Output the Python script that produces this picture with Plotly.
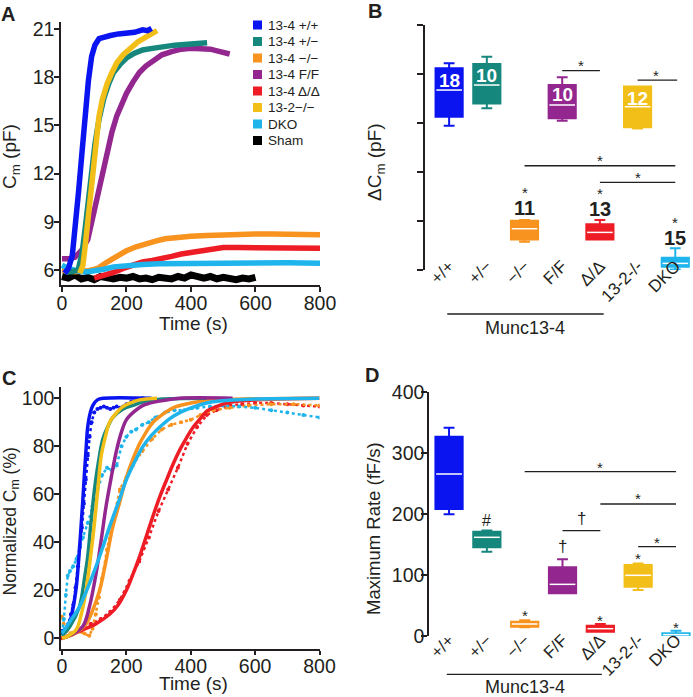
import plotly.graph_objects as go

W, H = 693, 697
FONT = "Arial, Liberation Sans, sans-serif"
INK = "#231f20"

# ---------------- series names / colours ----------------
names = ["13-4 +/+", "13-4 +/−", "13-4 −/−", "13-4 F/F", "13-4 Δ/Δ", "13-2−/−", "DKO", "Sham"]
colors = ["#0a14f0", "#16877d", "#f7931e", "#93278f", "#ee1c24", "#f2bf18", "#1fb5ec", "#000000"]
cats = ["+/+", "+/−", "−/−", "F/F", "Δ/Δ", "13-2-/-", "DKO"]

# ---------------- Panel A: Cm traces (pF) ----------------
a_t_wt = [8, 20, 32, 42, 52, 62, 72, 82, 92, 102, 115, 130, 150, 175, 200, 225, 250, 265, 278]
a_v_wt = [5.8, 6.1, 6.9, 8.6, 11.0, 13.3, 15.8, 17.8, 19.3, 20.0, 20.4, 20.5, 20.6, 20.7, 20.75, 20.8, 20.95, 20.9, 21.05]
a_t_het = [10, 30, 50, 62, 72, 82, 92, 102, 115, 130, 145, 160, 180, 200, 225, 250, 280, 310, 350, 390, 420, 450]
a_v_het = [5.9, 5.9, 6.0, 7.0, 8.6, 10.4, 12.2, 13.8, 15.4, 16.7, 17.6, 18.3, 18.8, 19.2, 19.5, 19.7, 19.8, 19.9, 20.0, 20.05, 20.1, 20.15]
a_t_ko = [0, 40, 80, 110, 140, 170, 200, 230, 260, 290, 320, 360, 400, 450, 500, 550, 600, 650, 700, 750, 800]
a_v_ko = [6.0, 5.9, 5.95, 6.1, 6.5, 6.9, 7.2, 7.45, 7.65, 7.8, 7.95, 8.05, 8.1, 8.15, 8.2, 8.25, 8.25, 8.25, 8.25, 8.2, 8.2]
a_t_ff = [0, 20, 40, 60, 80, 95, 110, 125, 140, 155, 170, 185, 200, 220, 240, 260, 285, 310, 340, 370, 400, 430, 460, 490, 520]
a_v_ff = [6.7, 6.7, 6.8, 7.2, 7.9, 9.2, 10.6, 12.0, 13.4, 14.6, 15.6, 16.4, 17.0, 17.7, 18.3, 18.7, 19.1, 19.4, 19.6, 19.75, 19.8, 19.8, 19.75, 19.6, 19.45]
a_t_dd = [100, 130, 160, 190, 220, 250, 280, 310, 340, 370, 400, 430, 460, 500, 550, 600, 650, 700, 750, 800]
a_v_dd = [5.5, 5.65, 5.85, 6.1, 6.3, 6.5, 6.6, 6.7, 6.85, 7.0, 7.1, 7.25, 7.35, 7.4, 7.4, 7.4, 7.4, 7.4, 7.35, 7.35]
a_t_m2 = [55, 65, 72, 80, 88, 96, 105, 115, 125, 140, 155, 170, 190, 210, 235, 260, 280, 295]
a_v_m2 = [5.8, 6.3, 7.5, 9.0, 10.8, 12.5, 14.2, 15.6, 16.6, 17.6, 18.3, 18.9, 19.4, 19.8, 20.2, 20.5, 20.7, 20.9]
a_t_dko = [0, 20, 40, 60, 80, 100, 130, 160, 200, 250, 300, 400, 500, 600, 700, 800]
a_v_dko = [6.3, 6.1, 6.0, 5.9, 5.9, 5.95, 6.05, 6.2, 6.3, 6.35, 6.4, 6.42, 6.45, 6.45, 6.45, 6.42]
a_t_sham = [0, 20, 40, 60, 80, 100, 120, 140, 160, 180, 200, 220, 240, 260, 280, 300, 320, 340, 360, 380,
            400, 420, 440, 460, 480, 500, 520, 540, 560, 580, 600]
a_v_sham = [5.6, 5.5, 5.7, 5.45, 5.55, 5.4, 5.6, 5.5, 5.45, 5.55, 5.5, 5.6, 5.45, 5.5, 5.4, 5.55, 5.5, 5.45, 5.6, 5.5,
            5.7, 5.55, 5.5, 5.6, 5.45, 5.55, 5.5, 5.4, 5.5, 5.45, 5.55]
a_tick_x = [0, 200, 400, 600, 800]
a_tick_y = [6, 9, 12, 15, 18, 21]

# ---------------- Panel C: normalized Cm (%) ----------------
c_t_wt = [0, 20, 35, 45, 52, 59, 65, 70, 75, 80, 88, 96, 110, 130, 278]
c_v_wt = [1.4, 5, 13, 22, 33, 46, 58, 69, 79, 88, 94, 97, 99.3, 100, 100]
c_t_het = [0, 25, 54, 70, 80, 90, 101, 114, 127, 142, 158, 190, 220, 260, 304, 450]
c_v_het = [1, 5, 13, 25, 34, 48, 62, 74, 83, 88, 92, 95.5, 97, 98.8, 99.6, 100]
c_t_ko = [0, 40, 75, 95, 117, 138, 158, 180, 200, 220, 241, 262, 283, 315, 345, 390, 429, 480, 533, 800]
c_v_ko = [0, 2, 6, 11.5, 20, 33, 46.5, 57, 67, 74.5, 81, 86, 90, 93.5, 96, 97.7, 98.6, 99.2, 99.6, 100]
c_t_ff = [0, 30, 65, 85, 106, 122, 137, 153, 169, 185, 200, 225, 252, 290, 325, 366, 530]
c_v_ff = [0, 1.5, 5, 13, 27, 41, 55, 67, 78, 86, 91, 94.5, 97, 98.5, 99.3, 100, 100]
c_t_dd = [0, 30, 65, 105, 148, 175, 200, 220, 241, 262, 283, 304, 325, 345, 366, 387, 408, 430, 449, 480, 512, 550, 600, 700, 800]
c_v_dd = [0, 1.5, 3.5, 6, 10, 14, 20, 26.5, 34, 42.5, 51, 59, 66, 72.5, 78.5, 83.5, 88, 91.5, 94.5, 96.5, 98, 98.8, 99.3, 99.8, 100]
c_t_m2 = [0, 20, 44, 60, 75, 88, 101, 112, 122, 135, 148, 170, 189, 215, 241, 295]
c_v_m2 = [0, 1, 3.5, 10, 20, 33, 48, 63, 76, 84, 90, 94, 96.5, 98.2, 99.3, 100]
c_t_dko = [0, 25, 54, 80, 106, 127, 148, 175, 200, 226, 252, 278, 304, 335, 366, 405, 449, 490, 533, 600, 800]
c_v_dko = [2, 7, 13, 21, 30, 38, 46.5, 56.5, 66, 73.5, 80, 84.5, 88, 91.5, 94, 96.2, 98, 98.8, 99.3, 99.7, 100]
# raw (dotted) data
cd_t_wt = [0, 10, 20, 28, 35, 42, 50, 56, 62, 68, 74, 80, 86, 92, 100, 110, 120, 130, 140, 150, 160, 170, 180, 190, 200, 215, 230, 250]
cd_v_wt = [3, 4, 6, 10, 14, 21, 30, 38, 46, 56, 66, 76, 84, 90, 94, 95.5, 96, 96.5, 96, 95.5, 96, 96.5, 96, 96.5, 97.5, 98.5, 99, 100]
cd_t_ko = [0, 5, 15, 30, 50, 70, 85, 95, 105, 115, 125, 140, 160, 180, 200, 220, 250, 280, 310, 340, 370, 400, 430, 470, 520, 580, 650, 720, 800]
cd_v_ko = [9, 6, 3, 2, 3, 2, 1, 4, 10, 17, 25, 37, 50, 62, 67, 72, 78, 83, 87, 89, 90, 91, 93, 95, 96, 97, 97.5, 97.5, 97]
cd_t_dd = [0, 30, 60, 90, 120, 150, 180, 210, 240, 270, 300, 330, 360, 390, 420, 450, 480, 520, 560, 600, 650, 700, 750, 800]
cd_v_dd = [0, 2, 4, 6, 8, 11, 16, 24, 32, 42, 53, 62, 71, 81, 88, 93, 95, 97, 97.5, 98, 98, 97.5, 97, 96.5]
cd_t_dko = [0, 6, 12, 18, 25, 35, 45, 55, 65, 80, 95, 110, 125, 140, 155, 170, 185, 200, 215, 230, 250, 270, 290, 320, 350,
            380, 420, 460, 500, 550, 600, 650, 700, 750, 800]
cd_v_dko = [2, 8, 18, 26, 28, 30, 33, 38, 42, 48, 55, 62, 68, 71, 70, 72, 80, 84, 86, 87, 89, 90, 92, 94, 95,
            95, 96, 96.5, 97, 96.5, 96, 95, 94, 93, 92]
c_tick_y = [0, 20, 40, 60, 80, 100]

# ---------------- Panel B: delta Cm (pF) box stats ----------------
b_hi = [16.87, 17.41, 4.08, 15.73, 4.08, 14.97, 1.77]
b_q3 = [16.46, 16.82, 4.03, 15.10, 3.73, 14.97, 1.00]
b_med = [14.69, 15.10, 3.37, 13.47, 3.07, 13.33, 0.54]
b_q1 = [12.52, 13.60, 2.50, 12.38, 2.50, 11.65, 0.27]
b_lo = [11.78, 13.20, 2.31, 12.19, 2.50, 11.56, 0.05]
b_n = [18, 10, 11, 10, 13, 12, 15]
b_tick_y = [0, 4, 8, 12, 16, 20]

# ---------------- Panel D: maximum rate (fF/s) box stats ----------------
d_hi = [342, 173, 26, 126, 19.7, 119, 8.8]
d_q3 = [327, 171, 23.5, 112.7, 17, 116.5, 4.4]
d_med = [266, 162, 19.7, 84.8, 12, 99.6, 2.2]
d_q1 = [208.5, 145.5, 15.3, 70, 7, 81, 0.6]
d_lo = [200, 138.4, 14.2, 70, 7, 75.5, 0.6]
d_tick_y = [0, 100, 200, 300, 400]


def fx(px):
    return px / W


def fy(py):
    return 1 - py / H


fig = go.Figure()

# ---- Panel A traces (drawing order) ----
a_series = [
    (a_t_sham, a_v_sham, 7), (a_t_dd, a_v_dd, 4), (a_t_ko, a_v_ko, 2), (a_t_dko, a_v_dko, 6),
    (a_t_ff, a_v_ff, 3), (a_t_het, a_v_het, 1), (a_t_m2, a_v_m2, 5), (a_t_wt, a_v_wt, 0),
]
for t, v, k in a_series:
    fig.add_trace(go.Scatter(x=t, y=v, mode="lines",
                             line=dict(color=colors[k], width=7 if k == 7 else 5.5),
                             name=names[k], showlegend=False, xaxis="x", yaxis="y"))

# ---- Panel C: raw data dots then fits ----
c_data = [(cd_t_dd, cd_v_dd, 4), (cd_t_ko, cd_v_ko, 2), (cd_t_wt, cd_v_wt, 0), (cd_t_dko, cd_v_dko, 6)]
for t, v, k in c_data:
    fig.add_trace(go.Scatter(x=t, y=v, mode="lines+markers",
                             line=dict(color=colors[k], width=2.5, dash="dot"),
                             marker=dict(color=colors[k], size=4),
                             showlegend=False, xaxis="x3", yaxis="y3"))
c_fits = [(c_t_dd, c_v_dd, 4), (c_t_ko, c_v_ko, 2), (c_t_wt, c_v_wt, 0), (c_t_het, c_v_het, 1),
          (c_t_ff, c_v_ff, 3), (c_t_m2, c_v_m2, 5), (c_t_dko, c_v_dko, 6)]
for t, v, k in c_fits:
    fig.add_trace(go.Scatter(x=t, y=v, mode="lines", line=dict(color=colors[k], width=3.5, shape="spline"),
                             name=names[k], showlegend=False, xaxis="x3", yaxis="y3"))

# ---- Box panels ----
BOXW = 0.72


def add_boxes(xa, ya, lo, q1, med, q3, hi):
    for i in range(len(cats)):
        fig.add_trace(go.Box(x=[i], q1=[q1[i]], median=[med[i]], q3=[q3[i]],
                             lowerfence=[lo[i]], upperfence=[hi[i]],
                             width=BOXW, whiskerwidth=0.4, boxpoints=False,
                             fillcolor=colors[i], line=dict(color=colors[i], width=2),
                             name=cats[i], showlegend=False, xaxis=xa, yaxis=ya, hoverinfo="skip"))
        fig.add_trace(go.Scatter(x=[i - BOXW / 2 + 0.02, i + BOXW / 2 - 0.02], y=[med[i], med[i]],
                                 mode="lines", line=dict(color="white", width=1.5),
                                 showlegend=False, xaxis=xa, yaxis=ya, hoverinfo="skip"))


add_boxes("x2", "y2", b_lo, b_q1, b_med, b_q3, b_hi)
add_boxes("x4", "y4", d_lo, d_q1, d_med, d_q3, d_hi)

# ---------------- layout ----------------
TICKF = dict(family=FONT, size=19.5, color=INK)
axis_common = dict(showgrid=False, zeroline=False, showline=True, linecolor=INK, linewidth=1.5,
                   ticks="outside", tickwidth=1.5, tickcolor=INK, tickfont=TICKF)
cat_axis = dict(showgrid=False, zeroline=False, showline=False, ticks="",
                tickvals=list(range(len(cats))), ticktext=cats, tickangle=-45,
                tickfont=dict(family=FONT, size=17, color=INK))

layout = dict(
    width=W, height=H, margin=dict(l=0, r=0, t=0, b=0, autoexpand=False),
    paper_bgcolor="white", plot_bgcolor="white", showlegend=False,
    font=dict(family=FONT, color=INK),
    xaxis=dict(domain=[fx(61), fx(320)], range=[-3, 800], tickvals=a_tick_x, anchor="y", ticklen=5,
               ticklabelstandoff=-5, **axis_common),
    yaxis=dict(domain=[fy(285), fy(22)], range=[5.07, 21.44], tickvals=a_tick_y, anchor="x", ticklen=5,
               ticklabelstandoff=-4, **axis_common),
    xaxis3=dict(domain=[fx(61), fx(319.5)], range=[-3, 800], tickvals=a_tick_x, anchor="y3", ticklen=4,
                ticklabelstandoff=-5, **axis_common),
    yaxis3=dict(domain=[fy(649.3), fy(386.7)], range=[-4.6, 104.8], tickvals=c_tick_y, anchor="x3", ticklen=5,
                ticklabelstandoff=-4, **axis_common),
    xaxis2=dict(domain=[fx(425), 1.0], range=[-0.64, 6.47], anchor="y2", ticklabelstandoff=-18, **cat_axis),
    yaxis2=dict(domain=[fy(270), fy(25)], range=[0, 20], tickvals=b_tick_y, showticklabels=False,
                anchor="x2", ticklen=6, **axis_common),
    xaxis4=dict(domain=[fx(429), 1.0], range=[-0.53, 6.45], anchor="y4", ticklabelstandoff=-10, **cat_axis),
    yaxis4=dict(domain=[fy(636), fy(392.3)], range=[0, 400], tickvals=d_tick_y,
                anchor="x4", ticklen=6, ticklabelstandoff=-7, **axis_common),
)
fig.update_layout(**layout)

ann = []
shapes = []


def text(x, y, s, size=19, xref="paper", yref="paper", angle=0, color=INK, xanchor="center", yshift=0):
    ann.append(dict(x=x, y=y, xref=xref, yref=yref, text=s, showarrow=False, textangle=angle,
                    font=dict(family=FONT, size=size, color=color), xanchor=xanchor, yanchor="middle",
                    yshift=yshift))


def star(x, y, xa, ya, s="*", size=15, yshift=-4):
    text(x, y, s, size=size, xref=xa, yref=ya, yshift=yshift)


def hline(x0, x1, y, xa, ya):
    shapes.append(dict(type="line", x0=x0, x1=x1, y0=y, y1=y, xref=xa, yref=ya,
                       line=dict(color=INK, width=1.3)))


# panel letters
for lab, (px, py) in zip("ABCD", [(7.5, 13.5), (375, 11.5), (8.5, 377.5), (371.5, 375)]):
    text(fx(px), fy(py), "<b>%s</b>" % lab, size=20)

# axis titles
text(fx(193), fy(323), "Time (s)")
text(fx(193), fy(683), "Time (s)")
text(fx(11), fy(157), "C<sub>m</sub> (pF)", angle=-90)
text(fx(376), fy(162), "ΔC<sub>m</sub> (pF)", angle=-90)
text(fx(10.5), fy(522), "Normalized C<sub>m</sub> (%)", angle=-90, size=17.5)
text(fx(373), fy(528), "Maximum Rate (fF/s)", angle=-90, size=18.5)

# panel A legend
for i, (nm, col) in enumerate(zip(names, colors)):
    yc = 25 + 16.5 * i
    shapes.append(dict(type="rect", xref="paper", yref="paper", x0=fx(253), x1=fx(262),
                       y0=fy(yc + 4.5), y1=fy(yc - 4.5), fillcolor=col, line=dict(width=0)))
    text(fx(266), fy(yc), nm, size=13.5, xanchor="left")

# panel B annotations
inside_y = {0: 15.5, 1: 15.9, 3: 14.3, 5: 14.0}
above = {2: (5.04, 6.5), 4: (4.96, 6.4), 6: (2.59, 4.05)}
for i, n in enumerate(b_n):
    if i in inside_y:
        text(i, inside_y[i], "<b>%d</b>" % n, size=19, xref="x2", yref="y2", color="white")
    else:
        ny, sy = above[i]
        text(i, ny, "<b>%d</b>" % n, size=20, xref="x2", yref="y2")
        star(i, sy, "x2", "y2", yshift=-2)
hline(3, 4, 16.27, "x2", "y2"); star(3.5, 17.0, "x2", "y2")
hline(5, 6.05, 15.5, "x2", "y2"); star(5.5, 16.2, "x2", "y2")
hline(2, 6, 8.51, "x2", "y2"); star(4, 9.25, "x2", "y2")
hline(4, 6, 7.16, "x2", "y2"); star(5, 7.84, "x2", "y2")
hline(-0.05, 4.1, fy(314), "x2", "paper")
text(2, fy(328), "Munc13-4", xref="x2", yref="paper", size=18)

# panel D annotations
star(1, 189, "x4", "y4", s="#", size=16, yshift=0)
star(3, 146.6, "x4", "y4", s="†", size=17, yshift=0)
hline(3, 4, 173, "x4", "y4"); star(3.5, 193, "x4", "y4", s="†", size=17, yshift=0)
for i, y in [(2, 40), (4, 31.7), (5, 133), (6, 20.8)]:
    star(i, y, "x4", "y4")
hline(2, 6, 269.8, "x4", "y4"); star(4, 283.4, "x4", "y4")
hline(4, 6, 216.7, "x4", "y4"); star(5, 231.5, "x4", "y4")
hline(5, 6, 146.6, "x4", "y4"); star(5.5, 160, "x4", "y4")
hline(-0.06, 4.04, fy(674.3), "x4", "paper")
text(2, fy(686.5), "Munc13-4", xref="x4", yref="paper", size=18)

fig.update_layout(annotations=ann, shapes=shapes)
fig.write_html("out.html", config={"displayModeBar": False},
               post_script="document.body.style.margin='0';document.body.style.overflow='hidden';")
